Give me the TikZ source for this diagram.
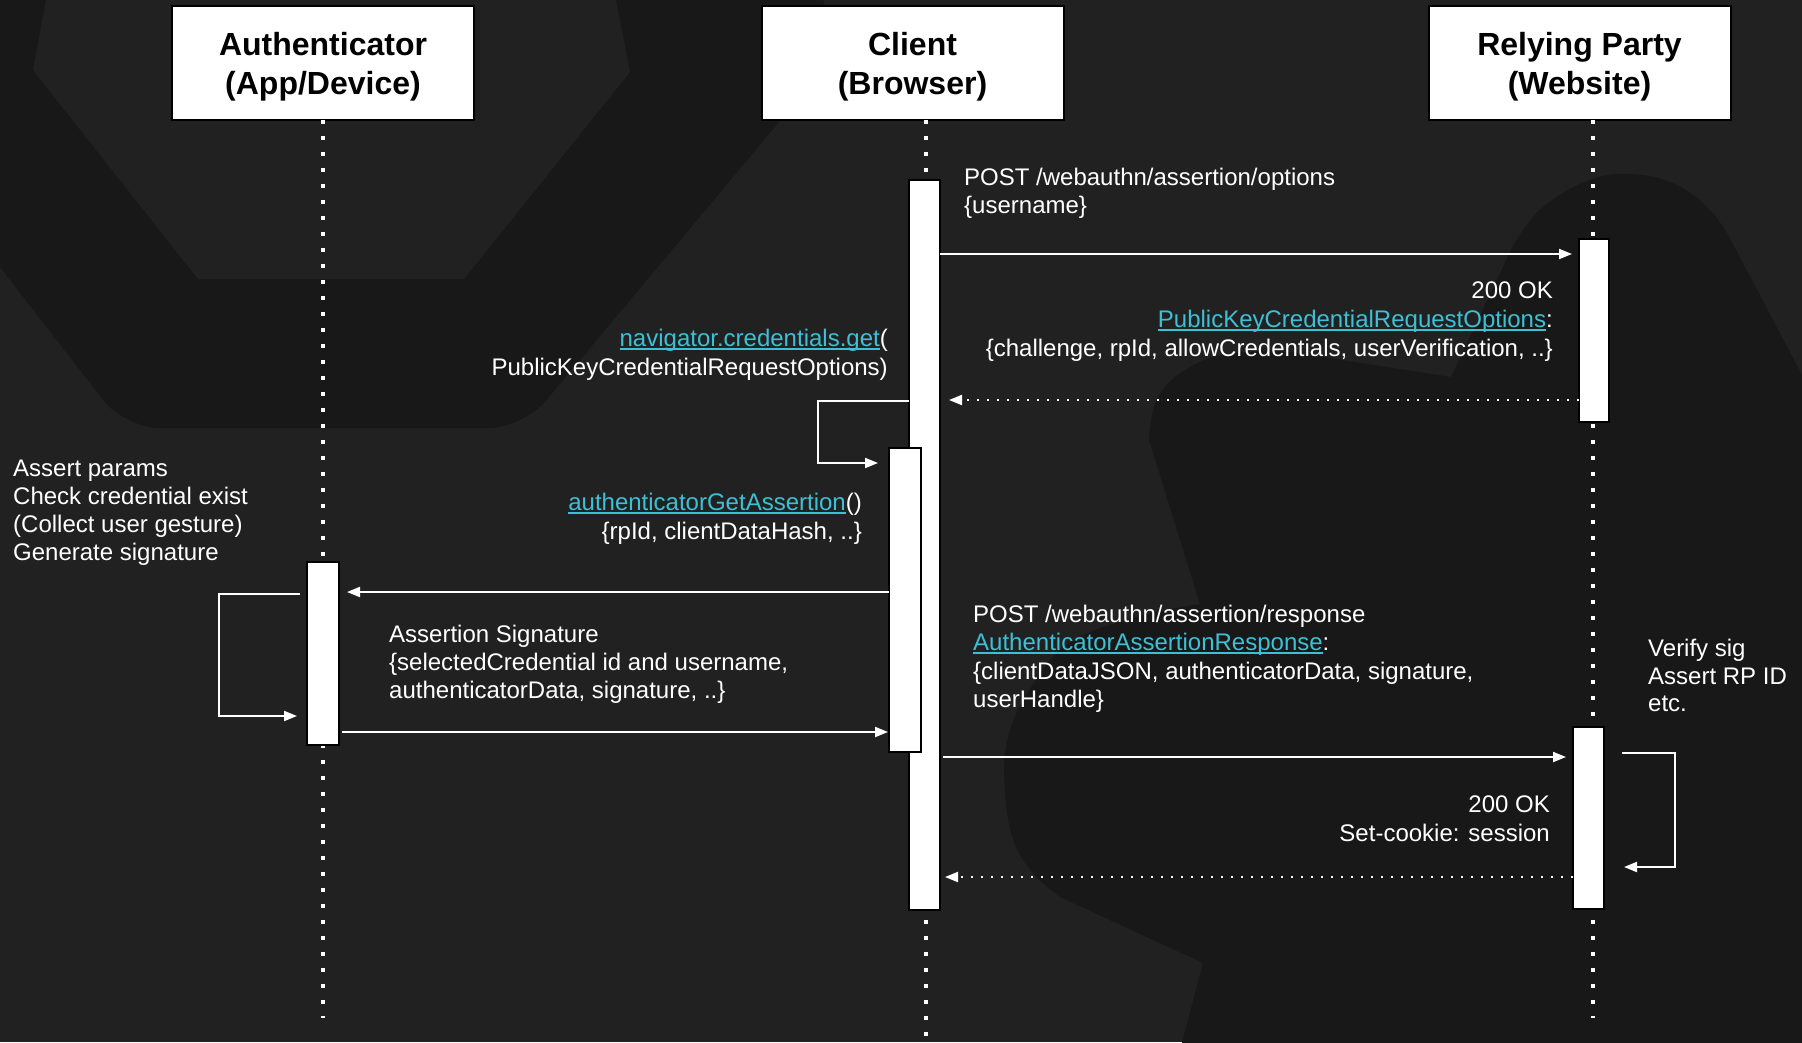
\documentclass[tikz,border=0pt]{standalone}
\usepackage{fontspec}
\setmainfont{Liberation Sans}
\usetikzlibrary{arrows.meta}
\definecolor{bgc}{RGB}{33,33,33}
\definecolor{dkc}{RGB}{24,24,24}
\definecolor{lnkc}{RGB}{60,192,214}
\newcommand\lnk[1]{{\color{lnkc}\setbox0\hbox{#1}\rlap{\rule[-4.2pt]{\wd0}{2.2pt}}\box0}}
\begin{document}
\begin{tikzpicture}[x=1pt,y=-1pt,
  hdr/.style={draw=black, line width=2pt, fill=white, minimum width=302pt, minimum height=114pt, inner sep=0pt, outer sep=0pt},
  bar/.style={draw=black, line width=2pt, fill=white, inner sep=0pt, outer sep=0pt},
  life/.style={draw=white, line width=4pt, dash pattern=on 4pt off 12pt},
  msg/.style={draw=white, line width=2pt, -{Triangle[length=13pt,width=10pt]}},
  ret/.style={msg, dash pattern=on 2.5pt off 7.5pt},
  lbl/.style={text=white, inner sep=0pt, font=\fontsize{24}{29}\selectfont},
  htxt/.style={text=black, inner sep=0pt, font=\fontsize{32}{39}\selectfont\bfseries}]
\useasboundingbox (0,0) rectangle (1802,1042);
% background
\fill[bgc] (0,0) rectangle (1802,1042);
\fill[dkc, rounded corners=35pt] (-231,-30) -- (820,-30) -- (831,60) -- (523,428) -- (125,428) -- cycle;
\fill[bgc] (48,-10) -- (33,70) -- (198,279) -- (464,279) -- (630,72) -- (614,-10) -- cycle;
\fill[dkc] (1810,1050) -- (1180,1050) -- (1203,963) -- (1060,897)
  -- plot[smooth, tension=0.7] coordinates {(1060,897) (1033,873) (1013,839) (1005,790) (1007,742) (1027,694) (1067,645) (1133,618) (1200,604)}
  -- (1149,440)
  -- plot[smooth, tension=0.7] coordinates {(1149,440) (1158,397) (1190,367) (1234,353) (1290,352)}
  -- (1451,377) -- (1503,267)
  -- plot[smooth, tension=0.7] coordinates {(1503,267) (1521,233) (1548,203) (1590,180) (1628,174) (1670,182) (1705,205) (1727,233)}
  -- (1810,390) -- cycle;
% header boxes
\node[hdr] (ha) at (323,63) {};
\node[hdr] (hc) at (912.5,63) {};
\node[hdr] (hr) at (1579.5,63) {};
% lifelines
\draw[life] (ha.south) -- (ha.south |- 0,1018);
\draw[life] ([xshift=13.5pt]hc.south) -- ++(0,922);
\draw[life] ([xshift=13.5pt]hr.south) -- ++(0,898);
% header texts
\node[htxt, anchor=base] (hat1) at (323,55) {Authenticator};
\node[htxt, anchor=base] (hat2) at (323,94) {(App/Device)};
\node[htxt, anchor=base] (hct1) at (912.5,55) {Client};
\node[htxt, anchor=base] (hct2) at (912.5,94) {(Browser)};
\node[htxt, anchor=base] (hrt1) at (1579.5,55) {Relying Party};
\node[htxt, anchor=base] (hrt2) at (1579.5,94) {(Website)};
% activation bars
\node[bar, minimum width=31pt, minimum height=730pt] (cb) at (924.5,545) {};
\node[bar, minimum width=32pt, minimum height=304pt] (ib) at (905,600) {};
\node[bar, minimum width=30pt, minimum height=183pt] (rb1) at (1594,330.5) {};
\node[bar, minimum width=32pt, minimum height=183pt] (ab) at (323,653.5) {};
\node[bar, minimum width=31pt, minimum height=182pt] (rb2) at (1588.5,818) {};
% messages
\draw[msg, shorten >=7pt] (cb.east |- 0,254) -- (rb1.west |- 0,254);
\draw[ret, shorten >=9pt] (rb1.west |- 0,400) -- (cb.east |- 0,400);
\draw[msg, shorten >=11pt] (cb.west |- 0,401) -- ++(-91,0) |- (ib.west |- 0,463);
\draw[msg, shorten >=8pt] (ib.west |- 0,592) -- (ab.east |- 0,592);
\draw[msg, shorten <=7pt, shorten >=10pt] (ab.west |- 0,594) -- ++(-88,0) |- (ab.west |- 0,716);
\draw[msg, shorten <=3pt, shorten >=1pt] (ab.east |- 0,732) -- (ib.west |- 0,732);
\draw[msg, shorten <=3pt, shorten >=7pt] (cb.east |- 0,757) -- (rb2.west |- 0,757);
\draw[msg, shorten <=18pt, shorten >=20pt] (rb2.east |- 0,753) -- ++(71,0) |- (rb2.east |- 0,867);
\draw[ret, shorten >=5pt] (rb2.west |- 0,877) -- (cb.east |- 0,877);
% labels
\node[lbl, anchor=base west] (m1a) at (964,185) {POST /webauthn/assertion/options};
\node[lbl, anchor=base west] (m1b) at (964,213) {\{username\}};
\node[lbl, anchor=base east] (m2a) at (1553,298) {200 OK};
\node[lbl, anchor=base east] (m2b) at (1553,327) {\lnk{PublicKeyCredentialRequestOptions}:};
\node[lbl, anchor=base east] (m2c) at (1553,356) {\{challenge, rpId, allowCredentials, userVerification, ..\}};
\node[lbl, anchor=base east] (m3a) at (888,346) {\lnk{navigator.credentials.get}(};
\node[lbl, anchor=base east] (m3b) at (888,375) {PublicKeyCredentialRequestOptions)};
\node[lbl, anchor=base east] (m4a) at (862,510) {\lnk{authenticatorGetAssertion}()};
\node[lbl, anchor=base east] (m4b) at (862,539) {\{rpId, clientDataHash, ..\}};
\node[lbl, anchor=base west] (m5a) at (13,476) {Assert params};
\node[lbl, anchor=base west] (m5b) at (13,504) {Check credential exist};
\node[lbl, anchor=base west] (m5c) at (13,532) {(Collect user gesture)};
\node[lbl, anchor=base west] (m5d) at (13,560) {Generate signature};
\node[lbl, anchor=base west] (m6a) at (389,642) {Assertion Signature};
\node[lbl, anchor=base west] (m6b) at (389,670) {\{selectedCredential id and username,};
\node[lbl, anchor=base west] (m6c) at (389,698) {authenticatorData, signature, ..\}};
\node[lbl, anchor=base west] (m7a) at (973,622) {POST /webauthn/assertion/response};
\node[lbl, anchor=base west] (m7b) at (973,650) {\lnk{AuthenticatorAssertionResponse}:};
\node[lbl, anchor=base west] (m7c) at (973,679) {\{clientDataJSON, authenticatorData, signature,};
\node[lbl, anchor=base west] (m7d) at (973,707) {userHandle\}};
\node[lbl, anchor=base west] (m8a) at (1648,656) {Verify sig};
\node[lbl, anchor=base west] (m8b) at (1648,684) {Assert RP ID};
\node[lbl, anchor=base west] (m8c) at (1648,711) {etc.};
\node[lbl, anchor=base east] (m9a) at (1550,812) {200 OK};
\node[lbl, anchor=base east] (m9b) at (1550,841) {Set-cookie: session};
\end{tikzpicture}
\end{document}
